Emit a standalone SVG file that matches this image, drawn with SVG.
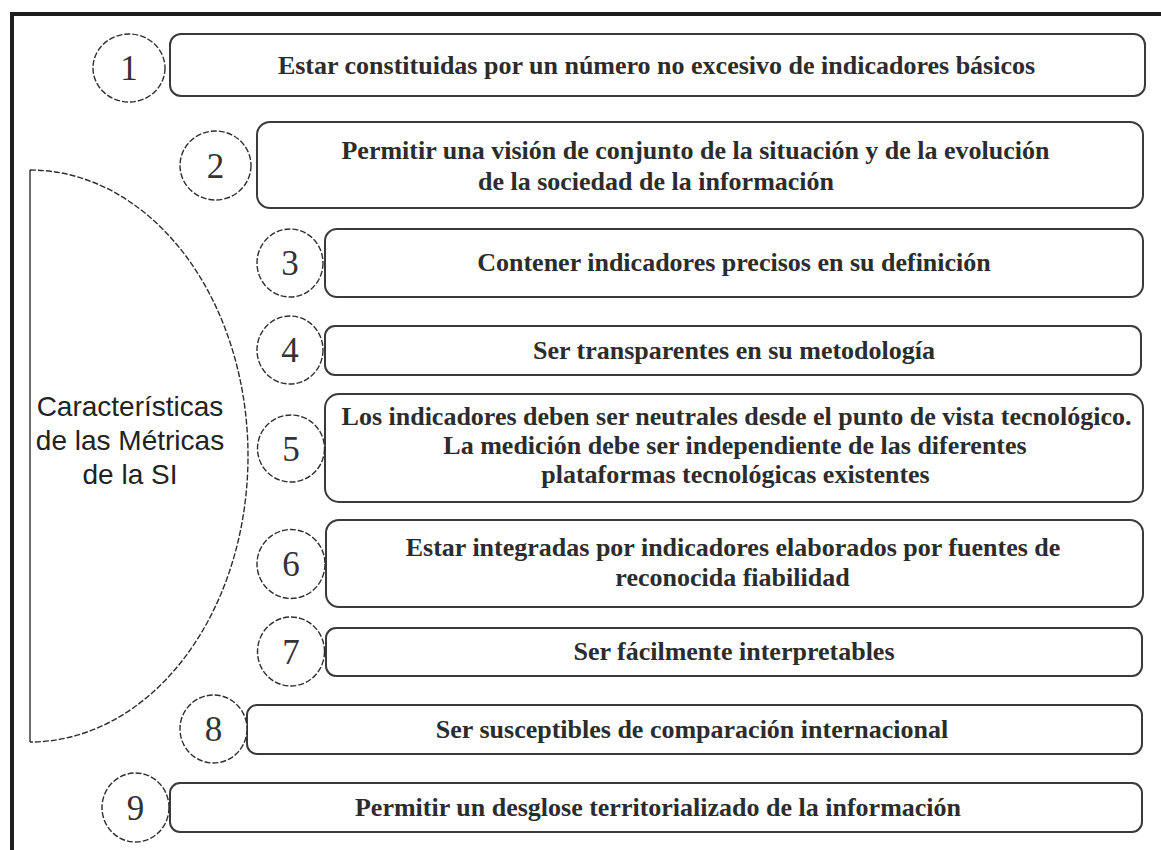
<svg xmlns="http://www.w3.org/2000/svg" width="1161" height="850" viewBox="0 0 1161 850">
<style>
.frame{fill:none;stroke:#1e1e1e;stroke-width:4}
.box{fill:#fff;stroke:#3a3a3a;stroke-width:2}
.circ{fill:#fff;stroke:#2e2e2e;stroke-width:1.4;stroke-dasharray:6 2}
.num{font-family:"Liberation Serif","Times New Roman",serif;font-size:35px;fill:#333;text-anchor:middle}
.lbl{font-family:"Liberation Serif","Times New Roman",serif;font-size:26px;font-weight:bold;fill:#2c2c2c;text-anchor:middle}
.title{font-family:"Liberation Sans",Arial,sans-serif;font-size:28px;fill:#222;text-anchor:middle}
.arc{fill:#fff;stroke:#2e2e2e;stroke-width:1.4}
</style>
<rect width="1161" height="850" fill="#fff"/>
<path class="frame" d="M12 850 V14 H1161"/>
<g id="hub">
<path class="arc" d="M30 170 A218 286 0 0 1 30 742" stroke-dasharray="6 2"/>
<line x1="30" y1="170" x2="30" y2="742" stroke="#2e2e2e" stroke-width="1.4"/>
<text class="title" x="130" y="416">Características</text>
<text class="title" x="130" y="450">de las Métricas</text>
<text class="title" x="130" y="484">de la SI</text>
</g>
<g id="connectors"></g>
<g id="n1">
<rect class="box" x="170" y="34" width="975" height="62" rx="11"/>
<ellipse class="circ" cx="129" cy="68" rx="36" ry="34"/>
<text class="num" x="129" y="80">1</text>
<text class="lbl" x="656.5" y="74">Estar constituidas por un número no excesivo de indicadores básicos</text>
</g>
<g id="n2">
<rect class="box" x="257" y="122" width="886" height="86" rx="13"/>
<ellipse class="circ" cx="215.5" cy="165.5" rx="35.5" ry="34.5"/>
<text class="num" x="215.5" y="178">2</text>
<text class="lbl" x="695.5" y="159">Permitir una visión de conjunto de la situación y de la evolución</text>
<text class="lbl" x="656" y="190">de la sociedad de la información</text>
</g>
<g id="n3">
<rect class="box" x="325" y="229" width="818" height="68" rx="12"/>
<ellipse class="circ" cx="290" cy="263" rx="33" ry="34"/>
<text class="num" x="290" y="275">3</text>
<text class="lbl" x="734" y="271">Contener indicadores precisos en su definición</text>
</g>
<g id="n4">
<rect class="box" x="325" y="326" width="816" height="49" rx="10"/>
<ellipse class="circ" cx="290" cy="350" rx="33" ry="34"/>
<text class="num" x="290" y="362">4</text>
<text class="lbl" x="734" y="359">Ser transparentes en su metodología</text>
</g>
<g id="n5">
<rect class="box" x="325" y="394" width="818" height="108" rx="14"/>
<ellipse class="circ" cx="291" cy="448.5" rx="33.5" ry="33.5"/>
<text class="num" x="291" y="461">5</text>
<text class="lbl" x="736.5" y="425">Los indicadores deben ser neutrales desde el punto de vista tecnológico.</text>
<text class="lbl" x="735" y="454">La medición debe ser independiente de las diferentes</text>
<text class="lbl" x="735.5" y="483">plataformas tecnológicas existentes</text>
</g>
<g id="n6">
<rect class="box" x="326" y="520" width="817" height="87" rx="13"/>
<ellipse class="circ" cx="291" cy="564" rx="34" ry="34.5"/>
<text class="num" x="291" y="576">6</text>
<text class="lbl" x="733" y="556">Estar integradas por indicadores elaborados por fuentes de</text>
<text class="lbl" x="732.5" y="586">reconocida fiabilidad</text>
</g>
<g id="n7">
<rect class="box" x="326" y="628" width="816" height="48" rx="10"/>
<ellipse class="circ" cx="291" cy="651.5" rx="33.5" ry="34.5"/>
<text class="num" x="291" y="664">7</text>
<text class="lbl" x="734" y="660">Ser fácilmente interpretables</text>
</g>
<g id="n8">
<rect class="box" x="247" y="705" width="895" height="49" rx="10"/>
<ellipse class="circ" cx="213.5" cy="729" rx="33.5" ry="34"/>
<text class="num" x="213.5" y="741">8</text>
<text class="lbl" x="692" y="738">Ser susceptibles de comparación internacional</text>
</g>
<g id="n9">
<rect class="box" x="170" y="783" width="972" height="49" rx="10"/>
<ellipse class="circ" cx="135.5" cy="807.5" rx="33.5" ry="34.5"/>
<text class="num" x="135.5" y="820">9</text>
<text class="lbl" x="658" y="816">Permitir un desglose territorializado de la información</text>
</g>
</svg>
